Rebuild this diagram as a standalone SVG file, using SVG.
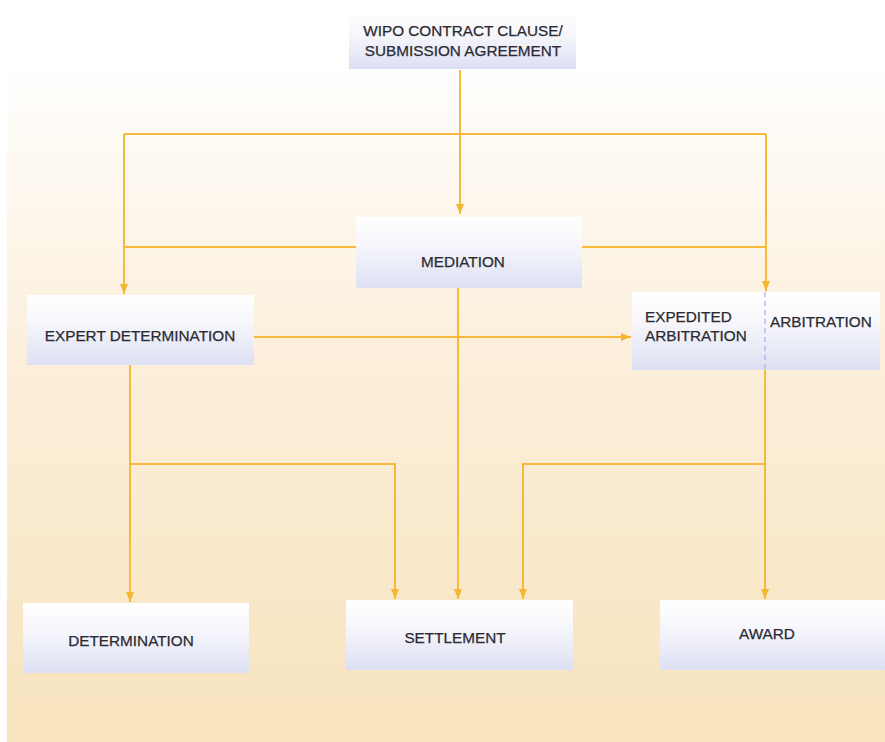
<svg xmlns="http://www.w3.org/2000/svg" width="885" height="742" viewBox="0 0 885 742">
<defs>
<linearGradient id="bg" x1="0" y1="0" x2="0" y2="1">
<stop offset="0" stop-color="#ffffff"/>
<stop offset="0.08" stop-color="#ffffff"/>
<stop offset="0.45" stop-color="#fcf0dd"/>
<stop offset="1" stop-color="#f7e3bd"/>
</linearGradient>
<linearGradient id="box" x1="0" y1="0" x2="0" y2="1">
<stop offset="0" stop-color="#ffffff"/>
<stop offset="0.35" stop-color="#f8f8fc"/>
<stop offset="1" stop-color="#dde0f3"/>
</linearGradient>
<marker id="ah" markerWidth="10" markerHeight="8" refX="10" refY="4" orient="auto" markerUnits="userSpaceOnUse">
<path d="M0,0 L10,4 L0,8 Z" fill="#f5b631"/>
</marker>
<style>
.bx{fill:url(#box);}
.t{font-family:"Liberation Sans",Arial,sans-serif;font-size:15.3px;fill:#2a2a32;stroke:#2a2a32;stroke-width:0.25;}
.c{fill:none;stroke:#f6b93a;stroke-width:2;}
</style>
</defs>
<rect x="0" y="0" width="885" height="742" fill="#ffffff"/>
<rect x="7" y="0" width="878" height="742" fill="url(#bg)"/>
<g id="connectors">
<path class="c" d="M460,70 V214" marker-end="url(#ah)"/>
<path class="c" d="M124,134 H766"/>
<path class="c" d="M124,134 V294" marker-end="url(#ah)"/>
<path class="c" d="M766,134 V291" marker-end="url(#ah)"/>
<path class="c" d="M124,247 H356"/>
<path class="c" d="M582,247 H766"/>
<path class="c" d="M254,337 H631" marker-end="url(#ah)"/>
<path class="c" d="M458,288 V599" marker-end="url(#ah)"/>
<path class="c" d="M130,365 V602" marker-end="url(#ah)"/>
<path class="c" d="M130,464 H395 V599" marker-end="url(#ah)"/>
<path class="c" d="M765,370 V599" marker-end="url(#ah)"/>
<path class="c" d="M765,464 H523 V599" marker-end="url(#ah)"/>
</g>
<g id="wipo">
<rect class="bx" x="349" y="12" width="227" height="57"/>
<text class="t" x="463" y="36" text-anchor="middle">WIPO CONTRACT CLAUSE/</text>
<text class="t" x="463" y="56" text-anchor="middle">SUBMISSION AGREEMENT</text>
</g>
<g id="mediation">
<rect class="bx" x="356" y="217" width="226" height="71"/>
<text class="t" x="463" y="267" text-anchor="middle">MEDIATION</text>
</g>
<g id="expert">
<rect class="bx" x="27" y="295" width="227" height="70"/>
<text class="t" x="140" y="341" text-anchor="middle">EXPERT DETERMINATION</text>
</g>
<g id="arbitration">
<rect class="bx" x="632" y="292" width="248" height="78"/>
<line x1="765" y1="292" x2="765" y2="370" stroke="#9fb0ee" stroke-width="1.2" stroke-dasharray="5,4"/>
<text class="t" x="645" y="322">EXPEDITED</text>
<text class="t" x="645" y="341">ARBITRATION</text>
<text class="t" x="770" y="327">ARBITRATION</text>
</g>
<g id="determination">
<rect class="bx" x="23" y="603" width="226" height="70"/>
<text class="t" x="131" y="646" text-anchor="middle">DETERMINATION</text>
</g>
<g id="settlement">
<rect class="bx" x="346" y="600" width="227" height="70"/>
<text class="t" x="455" y="643" text-anchor="middle">SETTLEMENT</text>
</g>
<g id="award">
<rect class="bx" x="660" y="600" width="225" height="70"/>
<text class="t" x="767" y="639" text-anchor="middle">AWARD</text>
</g>
</svg>
